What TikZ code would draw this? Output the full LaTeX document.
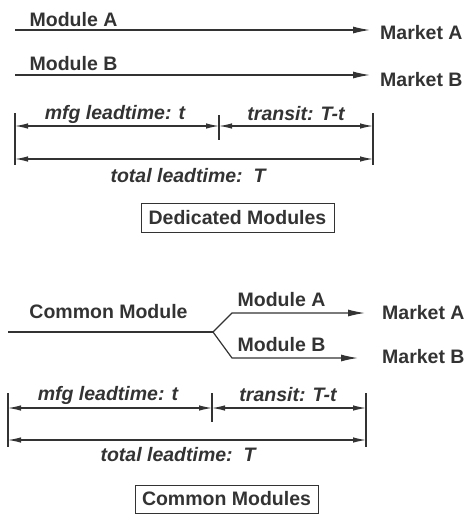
\documentclass[tikz,border=0pt]{standalone}
\usepackage{fontspec}
\setmainfont{Liberation Sans}
\usetikzlibrary{arrows.meta}
\definecolor{ink}{gray}{0.2}
\begin{document}
\begin{tikzpicture}[x=10pt,y=-10pt,
    every node/.style={text=ink,font=\fontsize{19.5}{22}\selectfont\bfseries},
    lbl/.style={font=\fontsize{19.5}{22}\selectfont\bfseries\itshape},
    mkt/.style={anchor=west,inner sep=0pt},
    flow/.style={draw=ink,line width=1.2pt,-{Latex[length=17pt,width=7pt]}},
    dim/.style={draw=ink,line width=1.1pt,{Latex[length=13pt,width=5.5pt]}-{Latex[length=13pt,width=5.5pt]}},
    tick/.style={draw=ink,line width=1.1pt},
    title/.style={draw=ink,line width=1pt,minimum width=193pt,minimum height=29pt,inner sep=0pt}]
  \useasboundingbox (0,0) rectangle (47.2,51.4);
  % dedicated modules
  \node (modA) at (7.35,1.95) {Module A};
  \node (modB) at (7.35,6.4) {Module B};
  \node[mkt] (mktA) at (38.0,3.3) {Market A};
  \node[mkt] (mktB) at (38.0,8.0) {Market B};
  \coordinate (a0) at (1.5,3.0); \coordinate (a1) at (37.0,3.0);
  \coordinate (b0) at (1.5,7.5); \coordinate (b1) at (37.0,7.5);
  \draw[flow] (a0) -- (a1);
  \draw[flow] (b0) -- (b1);
  \coordinate (l0) at (1.5,11.3); \coordinate (l1) at (1.5,16.5);
  \coordinate (m0) at (21.9,11.5); \coordinate (m1) at (21.9,14.0);
  \coordinate (r0) at (37.3,11.3); \coordinate (r1) at (37.3,16.5);
  \draw[tick] (l0) -- (l1); \draw[tick] (m0) -- (m1); \draw[tick] (r0) -- (r1);
  \draw[dim] (l0 |- 0,12.6) -- (m0 |- 0,12.6);
  \draw[dim] (m0 |- 0,12.6) -- (r0 |- 0,12.6);
  \draw[dim] (l0 |- 0,15.9) -- (r0 |- 0,15.9);
  \node[lbl] (mfg) at (11.5,11.4) {mfg leadtime: t};
  \node[lbl] (tr) at (29.6,11.4) {transit: T-t};
  \node[lbl] (tot) at (18.8,17.6) {total leadtime:\ \ T};
  \node[title] (ded) at (23.75,21.75) {Dedicated Modules};
  % common modules
  \node (com) at (10.85,31.2) {Common Module};
  \node (cmodA) at (28.15,30.0) {Module A};
  \node (cmodB) at (28.15,34.5) {Module B};
  \node[mkt] (cmktA) at (38.2,31.3) {Market A};
  \node[mkt] (cmktB) at (38.2,35.7) {Market B};
  \coordinate (c0) at (0.8,33.2); \coordinate (c1) at (21.3,33.2);
  \coordinate (u0) at (23.2,31.3); \coordinate (u1) at (36.5,31.3);
  \coordinate (d0) at (23.2,35.8); \coordinate (d1) at (35.8,35.8);
  \draw[draw=ink,line width=1.2pt] (c0) -- (c1);
  \draw[flow] (c1) -- (u0) -- (u1);
  \draw[flow] (c1) -- (d0) -- (d1);
  \coordinate (cl0) at (0.8,39.3); \coordinate (cl1) at (0.8,44.7);
  \coordinate (cm0) at (21.2,39.3); \coordinate (cm1) at (21.2,42.2);
  \coordinate (cr0) at (36.6,39.3); \coordinate (cr1) at (36.6,44.7);
  \draw[tick] (cl0) -- (cl1); \draw[tick] (cm0) -- (cm1); \draw[tick] (cr0) -- (cr1);
  \draw[dim] (cl0 |- 0,40.8) -- (cm0 |- 0,40.8);
  \draw[dim] (cm0 |- 0,40.8) -- (cr0 |- 0,40.8);
  \draw[dim] (cl0 |- 0,44.0) -- (cr0 |- 0,44.0);
  \node[lbl] (cmfg) at (10.8,39.5) {mfg leadtime: t};
  \node[lbl] (ctr) at (28.8,39.5) {transit: T-t};
  \node[lbl] (ctot) at (17.8,45.5) {total leadtime:\ \ T};
  \node[title,minimum width=183pt,minimum height=28pt] (cmn) at (22.65,49.9) {Common Modules};
\end{tikzpicture}
\end{document}
